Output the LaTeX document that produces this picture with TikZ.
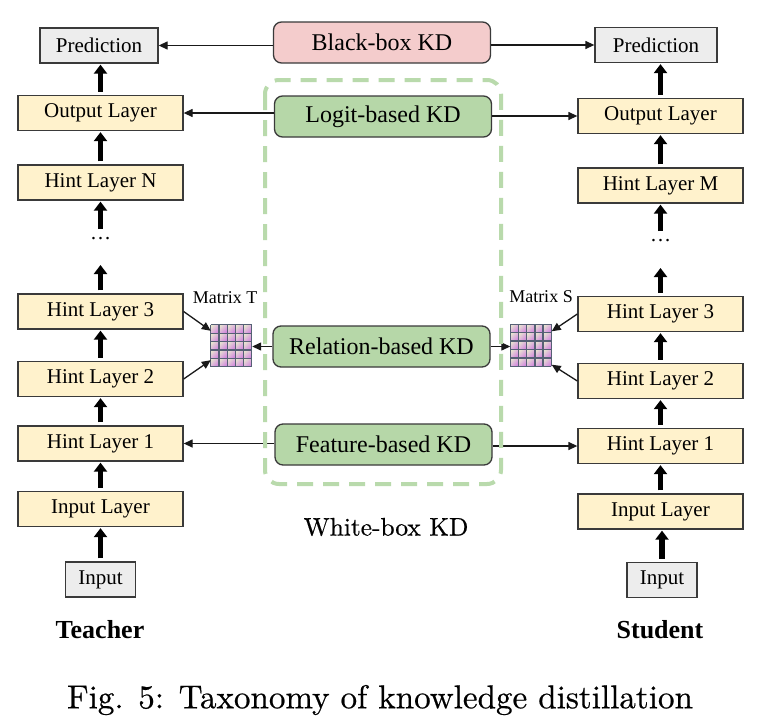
\documentclass[tikz,border=0pt]{standalone}
\usepackage{fontspec}
\newfontfamily\tnr{Liberation Serif}
\newfontfamily\capfont{lmroman10-regular.otf}[FakeBold=0.5]
\usetikzlibrary{arrows.meta,calc,shadings}
\definecolor{layerfill}{HTML}{FFF2CC}
\definecolor{greyfill}{HTML}{EDEDED}
\definecolor{kdgreen}{HTML}{B6D7A8}
\definecolor{kdpink}{HTML}{F4CCCC}
\definecolor{dashgreen}{HTML}{B9DAAC}
\definecolor{boxline}{HTML}{3A3A3A}
\definecolor{gridcol}{HTML}{566075}
\definecolor{cellA}{HTML}{E9F0CC}
\definecolor{cellB}{HTML}{CC72DE}
\definecolor{cellM}{HTML}{DDB0DC}
\tikzset{
 layerbox/.style={draw=boxline, line width=1.3pt, fill=layerfill, minimum width=165pt, minimum height=35pt, inner sep=0pt, font=\tnr\fontsize{21}{24}\selectfont},
 greybox/.style={layerbox, fill=greyfill},
 kdbox/.style={draw=boxline, line width=1.3pt, rounded corners=8pt, minimum width=217pt, minimum height=41pt, inner sep=0pt, font=\tnr\fontsize{24}{28}\selectfont},
 bigarrow/.style={line width=5.5pt, -{Triangle[length=9pt,width=13pt]}},
 thinarrow/.style={line width=1.3pt, black!90, -{Triangle[length=9pt,width=8pt]}},
 matbox/.style={minimum width=41pt, minimum height=42pt, inner sep=0pt},
 mlabel/.style={font=\tnr\fontsize{18}{20}\selectfont, inner sep=0pt},
}
\newcommand{\kdmatrix}[1]{%
 \foreach \i in {0,...,4}{\foreach \j in {0,...,4}{%
   \shade[upper left=cellA, lower right=cellB, upper right=cellM, lower left=cellM] ($(#1.north west)+(\i*8.2,\j*8.4)$) rectangle ++(8.2,8.4);}}
 \foreach \k in {0,...,5}{%
   \draw[gridcol,line width=1.3pt] ($(#1.north west)+(\k*8.2,0)$) -- ++(0,42);
   \draw[gridcol,line width=1.3pt] ($(#1.north west)+(0,\k*8.4)$) -- ++(41,0);}
}
\begin{document}
\begin{tikzpicture}[x=1pt,y=-1pt]
\useasboundingbox[fill=white] (0,0) rectangle (760,723);
% teacher column
\node[greybox, minimum width=118pt] (predL) at (99,45.5) {Prediction};
\node[layerbox] (outL) at (100.5,113) {Output Layer};
\node[layerbox] (hintNL) at (100.5,182.5) {Hint Layer N};
\node[font=\tnr\fontsize{21}{24}\selectfont, inner sep=0pt] (dotsL) at (100.5,239) {\dots};
\coordinate (dLtop) at (100.5,229);
\coordinate (dLbot) at (100.5,265);
\node[layerbox] (hint3L) at (100.5,311.5) {Hint Layer 3};
\node[layerbox] (hint2L) at (100.5,379) {Hint Layer 2};
\node[layerbox] (hint1L) at (100.5,443.5) {Hint Layer 1};
\node[layerbox] (inlayL) at (100.5,509) {Input Layer};
\node[greybox, minimum width=70pt] (inL) at (100.5,579.5) {Input};
\node[font=\tnr\bfseries\fontsize{26}{30}\selectfont] (teacher) at (100,630) {Teacher};
% student column
\node[greybox, minimum width=122pt] (predR) at (656,45) {Prediction};
\node[layerbox] (outR) at (660.5,116) {Output Layer};
\node[layerbox] (hintMR) at (660.5,185.5) {Hint Layer M};
\node[font=\tnr\fontsize{21}{24}\selectfont, inner sep=0pt] (dotsR) at (660.5,241) {\dots};
\coordinate (dRtop) at (660.5,231);
\coordinate (dRbot) at (660.5,268);
\node[layerbox] (hint3R) at (660.5,314) {Hint Layer 3};
\node[layerbox] (hint2R) at (660.5,381) {Hint Layer 2};
\node[layerbox] (hint1R) at (660.5,446) {Hint Layer 1};
\node[layerbox] (inlayR) at (660.5,511.5) {Input Layer};
\node[greybox, minimum width=70pt] (inR) at (662,580) {Input};
\node[font=\tnr\bfseries\fontsize{26}{30}\selectfont] (student) at (660,630) {Student};
% middle KD boxes
\node[kdbox, fill=kdpink] (bb) at (382,42.5) {Black-box KD};
\node[kdbox, fill=kdgreen] (logit) at (383,116.5) {Logit-based KD};
\node[kdbox, fill=kdgreen] (rel) at (381.5,346.5) {Relation-based KD};
\node[kdbox, fill=kdgreen] (feat) at (383.5,444.5) {Feature-based KD};
% matrices
\node[matbox] (matT) at (231.5,346) {};
\node[matbox] (matS) at (531,345.5) {};
\kdmatrix{matT}
\kdmatrix{matS}
\node[mlabel] (labT) at (225,298) {Matrix T};
\node[mlabel] (labS) at (541,297) {Matrix S};
\node[font=\capfont\fontsize{25.4}{30}\selectfont] (wb) at (386,527) {White-box KD};
\node[font=\capfont\fontsize{33.1}{40}\selectfont] (cap) at (380,700) {Fig. 5: Taxonomy of knowledge distillation};
% thick arrows teacher
\draw[bigarrow] ([yshift=3pt]outL.north) -- ([yshift=-1pt]outL.north |- predL.south);
\draw[bigarrow] ([yshift=3pt]hintNL.north) -- ([yshift=-1pt]outL.south);
\draw[bigarrow] (dLtop) -- ([yshift=-1pt]hintNL.south);
\draw[bigarrow] ([yshift=3pt]hint3L.north) -- (dLbot);
\draw[bigarrow] ([yshift=3pt]hint2L.north) -- ([yshift=-1pt]hint3L.south);
\draw[bigarrow] ([yshift=3pt]hint1L.north) -- ([yshift=-1pt]hint2L.south);
\draw[bigarrow] ([yshift=3pt]inlayL.north) -- ([yshift=-1pt]hint1L.south);
\draw[bigarrow] ([yshift=3pt]inL.north) -- ([yshift=-1pt]inlayL.south);
% thick arrows student
\draw[bigarrow] ([yshift=3pt]outR.north) -- ([yshift=-1pt]outR.north |- predR.south);
\draw[bigarrow] ([yshift=3pt]hintMR.north) -- ([yshift=-1pt]outR.south);
\draw[bigarrow] (dRtop) -- ([yshift=-1pt]hintMR.south);
\draw[bigarrow] ([yshift=3pt]hint3R.north) -- (dRbot);
\draw[bigarrow] ([yshift=3pt]hint2R.north) -- ([yshift=-1pt]hint3R.south);
\draw[bigarrow] ([yshift=3pt]hint1R.north) -- ([yshift=-1pt]hint2R.south);
\draw[bigarrow] ([yshift=3pt]inlayR.north) -- ([yshift=-1pt]hint1R.south);
\draw[bigarrow] ([yshift=3pt]inR.north) -- ([yshift=-1pt]inR.north |- inlayR.south);
% thin arrows
\draw[thinarrow] (bb.west |- predL.east) -- (predL.east);
\draw[thinarrow] (bb.east |- predR.west) -- (predR.west);
\draw[thinarrow] (logit.west |- outL.east) -- (outL.east);
\draw[thinarrow] (logit.east |- outR.west) -- (outR.west);
\draw[thinarrow] (rel.west) -- (rel.west -| matT.east);
\draw[thinarrow] (rel.east) -- (rel.east -| matS.west);
\draw[thinarrow] (feat.west |- hint1L.east) -- (hint1L.east);
\draw[thinarrow] (feat.east |- hint1R.west) -- (hint1R.west);
\draw[thinarrow] (hint3L.east) -- ([yshift=-6pt]matT.north west);
\draw[thinarrow] (hint2L.east) -- ([yshift=7pt]matT.south west);
\draw[thinarrow] (hint3R.west) -- ([yshift=-7pt]matS.north east);
\draw[thinarrow] (hint2R.west) -- ([yshift=2pt]matS.south east);
% white-box dashed region
\draw[dashgreen, line width=4pt, dash pattern=on 16pt off 10pt, rounded corners=14pt] (265,80) rectangle (501,484);
\end{tikzpicture}
\end{document}
